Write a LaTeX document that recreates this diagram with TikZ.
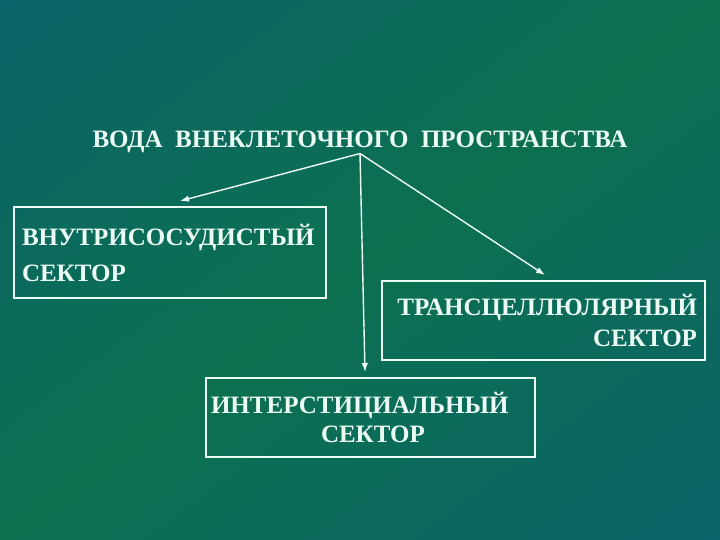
\documentclass[tikz,border=0pt]{standalone}
\usepackage{fontspec}
\setmainfont{Liberation Serif}
\usetikzlibrary{arrows.meta}

\definecolor{seateal}{RGB}{10,99,104}
\definecolor{seagreen}{RGB}{12,112,80}
\definecolor{chalk}{RGB}{236,252,244}

\begin{document}
\begin{tikzpicture}[x=1pt, y=-1pt,
  sector/.style={draw=chalk, line width=1.1pt, text=chalk, font=\bfseries\fontsize{25}{36}\selectfont, inner xsep=8pt},
  link/.style={-{Latex[length=9pt,width=6.5pt]}, chalk, line width=1.4pt}]
% background, diagonal bands
\begin{scope}
\clip (0,0) rectangle (720,540);
\foreach \i in {0,...,79}{
  \pgfmathsetmacro\mixg{100*(1-abs(2*\i/79-1))}
  \pgfmathsetmacro\sa{2*\i/80}
  \pgfmathsetmacro\sb{2*(\i+1.6)/80}
  \fill[seagreen!\mixg!seateal] ({720*(\sa+1)},-540) -- ({720*(\sb+1)},-540) -- ({720*(\sb-2)},1080) -- ({720*(\sa-2)},1080) -- cycle;
}
\end{scope}
\useasboundingbox (0,0) rectangle (720,540);

\draw
(360, 148) node[anchor=base, text=chalk, inner sep=0pt, font=\bfseries\fontsize{25}{30}\selectfont](voda){ВОДА\ \ ВНЕКЛЕТОЧНОГО\ \ ПРОСТРАНСТВА}
(170, 252.5) node[sector, minimum width=312, minimum height=91, text width=296, align=left](vnutri){ВНУТРИСОСУДИСТЫЙ\\СЕКТОР}
(543.5, 320.5) node[sector, minimum width=323, minimum height=79, text width=307, align=right, font=\bfseries\fontsize{25}{31}\selectfont](trans){ТРАНСЦЕЛЛЮЛЯРНЫЙ\\СЕКТОР}
(370.5, 417.5) node[sector, minimum width=329, minimum height=79, text width=319, inner xsep=5pt, align=left, font=\bfseries\fontsize{25}{29}\selectfont](inter){ИНТЕРСТИЦИАЛЬНЫЙ\\\hspace*{110pt}СЕКТОР};

\coordinate (vnutrin) at (180, 201);
\coordinate (transn) at (545, 275);
\coordinate (intern) at (365, 372);

\draw[link] (voda.south) -- (vnutrin);
\draw[link] (voda.south) -- (transn);
\draw[link] (voda.south) -- (intern);

\end{tikzpicture}
\end{document}
